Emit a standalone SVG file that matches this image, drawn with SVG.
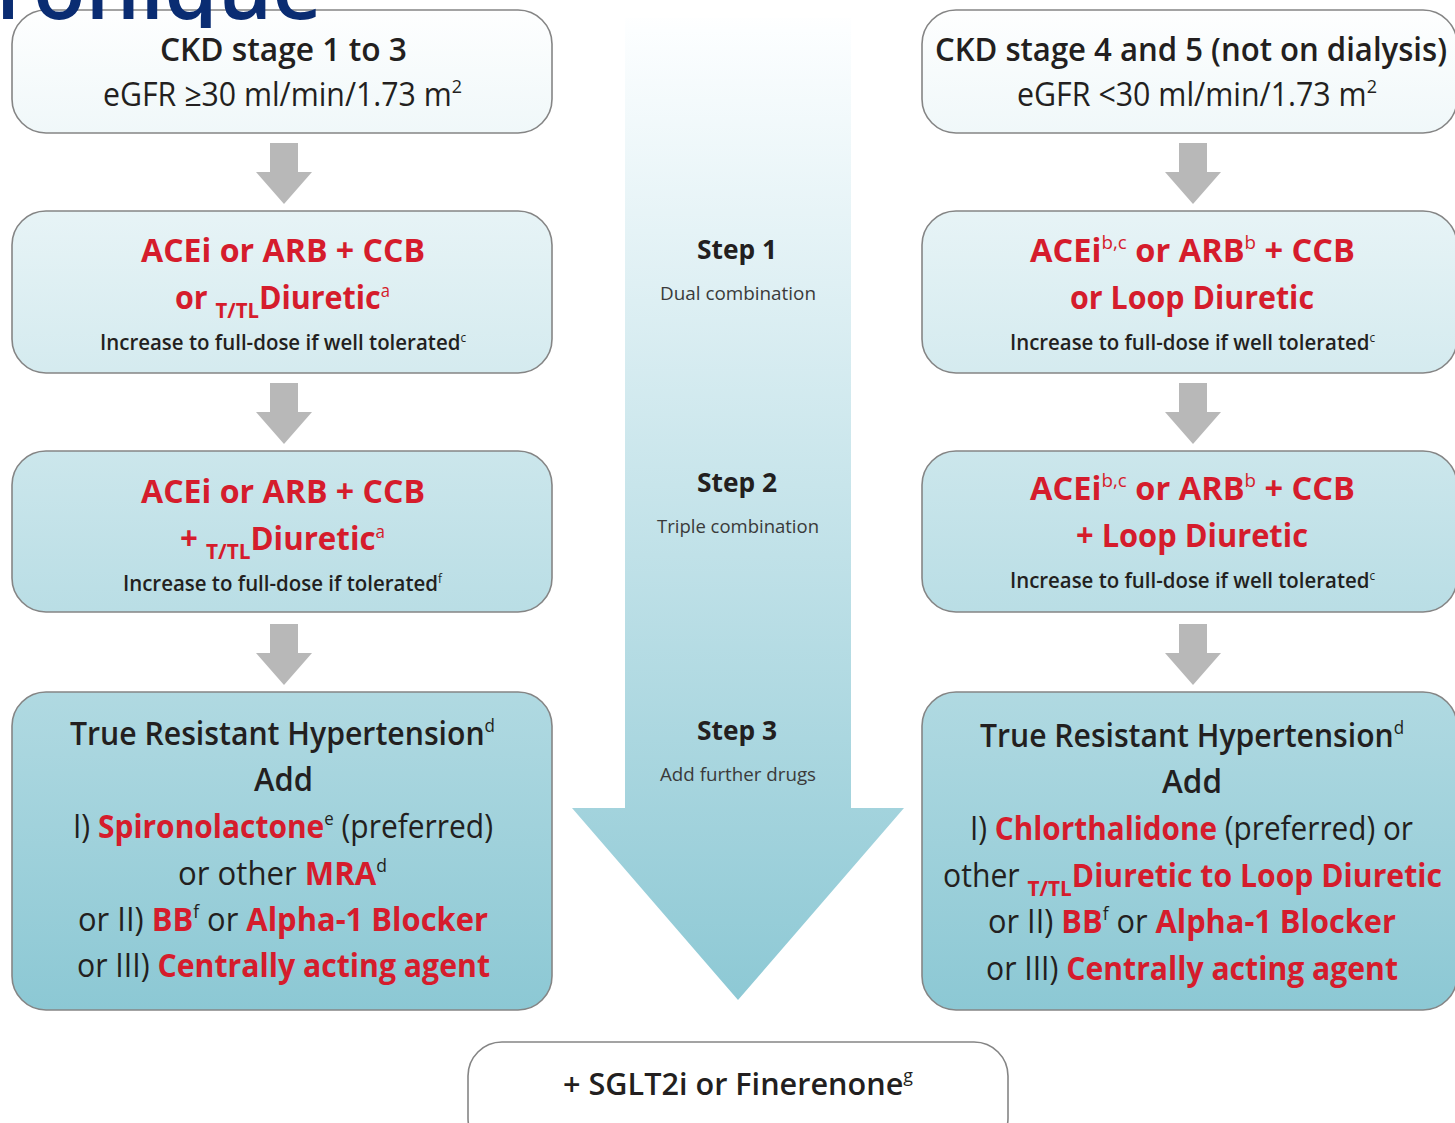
<svg xmlns="http://www.w3.org/2000/svg" width="1455" height="1123" viewBox="0 0 1455 1123">
  <defs>
    <!-- one shared vertical wash used by the boxes and the central step arrow -->
    <linearGradient id="wash" gradientUnits="userSpaceOnUse" x1="0" y1="0" x2="0" y2="1010">
      <stop offset="0" stop-color="#ffffff"/>
      <stop offset="1" stop-color="#8cc8d4"/>
    </linearGradient>
    <linearGradient id="shaftFade" gradientUnits="userSpaceOnUse" x1="0" y1="10" x2="0" y2="1010">
      <stop offset="0" stop-color="#ffffff"/>
      <stop offset="0.02" stop-color="#fcfeff"/>
      <stop offset="1" stop-color="#8cc8d4"/>
    </linearGradient>
    <clipPath id="topClip"><rect x="0" y="0" width="1455" height="28"/></clipPath>
    <!-- grey step arrow, drawn with its tip at (0,0) -->
    <path id="stepArrow" d="M-14,-61 H14 V-32 H28 L0,0 L-28,-32 H-14 Z"/>
  </defs>
  <style>
    text { font-family: "Open Sans", "Noto Sans", "Liberation Sans", sans-serif; fill: #231f20; }
    .box { stroke: #858585; stroke-width: 1.6; fill: url(#wash); }
    .plain { stroke: #858585; stroke-width: 1.6; fill: #ffffff; }
    .hd { font-size: 32px; font-weight: 600; }
    .lt { font-size: 32px; font-weight: 400; }
    .red { font-size: 33px; font-weight: 700; fill: #d51c2c; }
    .r { fill: #d51c2c; font-weight: 700; }
    .inc { font-size: 21px; font-weight: 600; }
    .step { font-size: 26px; font-weight: 700; }
    .sub { font-size: 19px; font-weight: 400; fill: #3a3a3a; }
    .gr { fill: #b8b8b8; }
  </style>

  <!-- central step arrow -->
  <g id="step-arrow">
    <path d="M625,18 H851 V808 H904 L738,1000 L572,808 H625 Z" fill="url(#shaftFade)"/>
    <text class="step" x="697" y="259" textLength="80" lengthAdjust="spacingAndGlyphs">Step 1</text>
    <text class="sub" x="660" y="300" textLength="156" lengthAdjust="spacingAndGlyphs">Dual combination</text>
    <text class="step" x="697" y="492" textLength="80" lengthAdjust="spacingAndGlyphs">Step 2</text>
    <text class="sub" x="657" y="533" textLength="162" lengthAdjust="spacingAndGlyphs">Triple combination</text>
    <text class="step" x="697" y="740" textLength="80" lengthAdjust="spacingAndGlyphs">Step 3</text>
    <text class="sub" x="660" y="781" textLength="156" lengthAdjust="spacingAndGlyphs">Add further drugs</text>
  </g>

  <!-- connectors between the stages of each column -->
  <g id="connectors" class="gr">
    <use href="#stepArrow" x="284" y="204"/>
    <use href="#stepArrow" x="284" y="444"/>
    <use href="#stepArrow" x="284" y="685"/>
    <use href="#stepArrow" x="1193" y="204"/>
    <use href="#stepArrow" x="1193" y="444"/>
    <use href="#stepArrow" x="1193" y="685"/>
  </g>

  <!-- left column: CKD stage 1 to 3 -->
  <g id="ckd13">
    <rect class="box" x="12" y="10" width="540" height="123" rx="34"/>
    <text class="hd" x="160" y="61" textLength="247" lengthAdjust="spacingAndGlyphs">CKD stage 1 to 3</text>
    <text class="lt" x="103" y="106" textLength="359" lengthAdjust="spacingAndGlyphs">eGFR ≥30 ml/min/1.73 m<tspan dy="-13" font-size="19">2</tspan></text>
  </g>
  <g id="left-step1">
    <rect class="box" x="12" y="211" width="540" height="162" rx="34"/>
    <text class="red" x="141" y="262" textLength="284" lengthAdjust="spacingAndGlyphs">ACEi or ARB + CCB</text>
    <text class="red" x="175" y="309" textLength="215" lengthAdjust="spacingAndGlyphs">or <tspan dy="9" font-size="22">T/TL</tspan><tspan dy="-9">Diuretic</tspan><tspan dy="-12" font-size="18" font-weight="400">a</tspan></text>
    <text class="inc" x="100" y="350" textLength="366" lengthAdjust="spacingAndGlyphs">Increase to full-dose if well tolerated<tspan dy="-8" font-size="12" font-weight="400">c</tspan></text>
  </g>
  <g id="left-step2">
    <rect class="box" x="12" y="451" width="540" height="161" rx="34"/>
    <text class="red" x="141" y="503" textLength="284" lengthAdjust="spacingAndGlyphs">ACEi or ARB + CCB</text>
    <text class="red" x="180" y="550" textLength="205" lengthAdjust="spacingAndGlyphs">+ <tspan dy="9" font-size="22">T/TL</tspan><tspan dy="-9">Diuretic</tspan><tspan dy="-12" font-size="18" font-weight="400">a</tspan></text>
    <text class="inc" x="123" y="591" textLength="319" lengthAdjust="spacingAndGlyphs">Increase to full-dose if tolerated<tspan dy="-8" font-size="12" font-weight="400">f</tspan></text>
  </g>
  <g id="left-step3">
    <rect class="box" x="12" y="692" width="540" height="318" rx="34"/>
    <text class="hd" x="70" y="745" textLength="425" lengthAdjust="spacingAndGlyphs">True Resistant Hypertension<tspan dy="-13" font-size="18" font-weight="400">d</tspan></text>
    <text class="hd" x="254" y="791" textLength="59" lengthAdjust="spacingAndGlyphs">Add</text>
    <text class="lt" x="73" y="838" textLength="420" lengthAdjust="spacingAndGlyphs">I) <tspan class="r">Spironolactone</tspan><tspan dy="-13" font-size="18">e</tspan><tspan dy="13"> (preferred)</tspan></text>
    <text class="lt" x="178" y="885" textLength="209" lengthAdjust="spacingAndGlyphs">or other <tspan class="r">MRA</tspan><tspan dy="-13" font-size="18">d</tspan></text>
    <text class="lt" x="78" y="931" textLength="410" lengthAdjust="spacingAndGlyphs">or II) <tspan class="r">BB</tspan><tspan dy="-13" font-size="18">f</tspan><tspan dy="13"> or </tspan><tspan class="r">Alpha-1 Blocker</tspan></text>
    <text class="lt" x="77" y="977" textLength="413" lengthAdjust="spacingAndGlyphs">or III) <tspan class="r">Centrally acting agent</tspan></text>
  </g>

  <!-- right column: CKD stage 4 and 5 -->
  <g id="ckd45">
    <rect class="box" x="922" y="10" width="535" height="123" rx="34"/>
    <text class="hd" x="935" y="61" textLength="512" lengthAdjust="spacingAndGlyphs">CKD stage 4 and 5 (not on dialysis)</text>
    <text class="lt" x="1017" y="106" textLength="360" lengthAdjust="spacingAndGlyphs">eGFR &lt;30 ml/min/1.73 m<tspan dy="-13" font-size="19">2</tspan></text>
  </g>
  <g id="right-step1">
    <rect class="box" x="922" y="211" width="535" height="162" rx="34"/>
    <text class="red" x="1030" y="262" textLength="325" lengthAdjust="spacingAndGlyphs">ACEi<tspan dy="-13" font-size="19" font-weight="400">b,c</tspan><tspan dy="13"> or ARB</tspan><tspan dy="-13" font-size="19" font-weight="400">b</tspan><tspan dy="13"> + CCB</tspan></text>
    <text class="red" x="1070" y="309" textLength="244" lengthAdjust="spacingAndGlyphs">or Loop Diuretic</text>
    <text class="inc" x="1010" y="350" textLength="365" lengthAdjust="spacingAndGlyphs">Increase to full-dose if well tolerated<tspan dy="-8" font-size="12" font-weight="400">c</tspan></text>
  </g>
  <g id="right-step2">
    <rect class="box" x="922" y="451" width="535" height="161" rx="34"/>
    <text class="red" x="1030" y="500" textLength="325" lengthAdjust="spacingAndGlyphs">ACEi<tspan dy="-13" font-size="19" font-weight="400">b,c</tspan><tspan dy="13"> or ARB</tspan><tspan dy="-13" font-size="19" font-weight="400">b</tspan><tspan dy="13"> + CCB</tspan></text>
    <text class="red" x="1076" y="547" textLength="232" lengthAdjust="spacingAndGlyphs">+ Loop Diuretic</text>
    <text class="inc" x="1010" y="588" textLength="365" lengthAdjust="spacingAndGlyphs">Increase to full-dose if well tolerated<tspan dy="-8" font-size="12" font-weight="400">c</tspan></text>
  </g>
  <g id="right-step3">
    <rect class="box" x="922" y="692" width="535" height="318" rx="34"/>
    <text class="hd" x="980" y="747" textLength="424" lengthAdjust="spacingAndGlyphs">True Resistant Hypertension<tspan dy="-13" font-size="18" font-weight="400">d</tspan></text>
    <text class="hd" x="1162" y="793" textLength="60" lengthAdjust="spacingAndGlyphs">Add</text>
    <text class="lt" x="970" y="840" textLength="443" lengthAdjust="spacingAndGlyphs">I) <tspan class="r">Chlorthalidone</tspan> (preferred) or</text>
    <text class="lt" x="943" y="887" textLength="499" lengthAdjust="spacingAndGlyphs">other <tspan class="r" dy="9" font-size="22">T/TL</tspan><tspan class="r" dy="-9">Diuretic to Loop Diuretic</tspan></text>
    <text class="lt" x="988" y="933" textLength="408" lengthAdjust="spacingAndGlyphs">or II) <tspan class="r">BB</tspan><tspan dy="-13" font-size="18">f</tspan><tspan dy="13"> or </tspan><tspan class="r">Alpha-1 Blocker</tspan></text>
    <text class="lt" x="986" y="980" textLength="412" lengthAdjust="spacingAndGlyphs">or III) <tspan class="r">Centrally acting agent</tspan></text>
  </g>

  <!-- add-on therapy for both columns -->
  <g id="addon">
    <rect class="plain" x="468" y="1042" width="540" height="110" rx="34"/>
    <text class="hd" x="563" y="1095" textLength="350" lengthAdjust="spacingAndGlyphs" style="font-size:31px">+ SGLT2i or Finerenone<tspan dy="-13" font-size="18" font-weight="400">g</tspan></text>
  </g>

  <!-- page heading fragment at the top edge, laid over the first box -->
  <text x="-4" y="19" clip-path="url(#topClip)" style="font-size:86px;font-weight:600;fill:#0a2c72">ronique</text>
</svg>
